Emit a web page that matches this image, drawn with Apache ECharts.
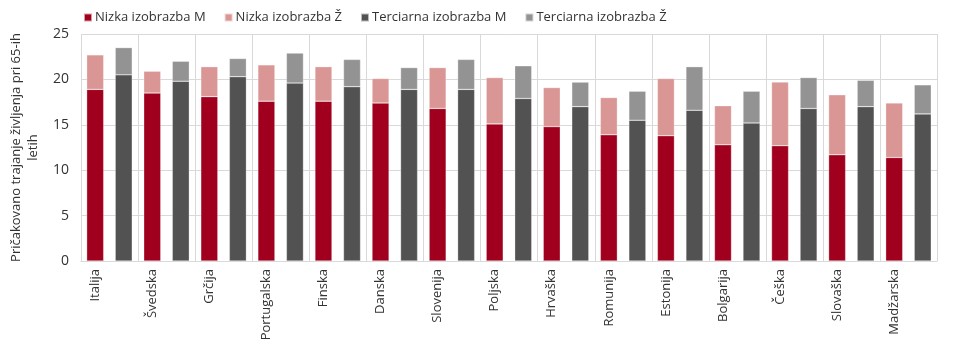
<!DOCTYPE html>
<html>
<head>
<meta charset="utf-8">
<script src="https://cdn.jsdelivr.net/npm/echarts@6/dist/echarts.min.js"></script>
<style>html,body{margin:0;padding:0;background:#fff}#c{width:960px;height:350px}</style>
</head>
<body>
<div id="c"></div>
<script>
const countries = ['Italija','Švedska','Grčija','Portugalska','Finska','Danska','Slovenija','Poljska','Hrvaška','Romunija','Estonija','Bolgarija','Češka','Slovaška','Madžarska'];
const lowM  = [18.9,18.5,18.1,17.6,17.6,17.4,16.8,15.1,14.8,13.9,13.8,12.8,12.7,11.7,11.4];
const lowF  = [22.7,20.9,21.4,21.6,21.4,20.1,21.3,20.2,19.1,18.0,20.1,17.1,19.7,18.3,17.4];
const terM  = [20.5,19.8,20.3,19.6,19.2,18.9,18.9,17.9,17.0,15.5,16.6,15.2,16.8,17.0,16.2];
const terF  = [23.5,22.0,22.3,22.9,22.2,21.3,22.2,21.5,19.7,18.7,21.4,18.7,20.2,19.9,19.4];
const yTicks = [0,5,10,15,20,25];

// two slots per country: low education slot, tertiary slot
const cats = [], sLowM = [], sLowF = [], sTerM = [], sTerF = [];
countries.forEach((c, i) => {
  cats.push(c, ' ');
  sLowM.push(lowM[i], '-');
  sLowF.push(+(lowF[i] - lowM[i]).toFixed(2), '-');
  sTerM.push('-', terM[i]);
  sTerF.push('-', +(terF[i] - terM[i]).toFixed(2));
});
// group separators: one per country boundary
const bounds = countries.map((_, i) => i).concat([countries.length]);

const font = '"Open Sans", "Noto Sans", sans-serif';
const chart = echarts.init(document.getElementById('c'), null, {renderer: 'canvas'});
const mk = (name, data, color) => ({
  name, type: 'bar', stack: 'a', data, barWidth: 17, xAxisIndex: 0, z: 3,
  itemStyle: {color, borderColor: 'rgba(255,255,255,0.6)', borderWidth: 0.5},
  emphasis: {disabled: true}
});
chart.setOption({
  animation: false,
  textStyle: {fontFamily: font},
  legend: {
    left: 78, top: 6, itemWidth: 8, itemHeight: 8, itemGap: 18,
    icon: 'rect',
    textStyle: {fontFamily: font, fontSize: 13, color: '#333', padding: [0,0,0,-2]},
    data: ['Nizka izobrazba M','Nizka izobrazba Ž','Terciarna izobrazba M','Terciarna izobrazba Ž']
  },
  grid: {left: 78, right: 23, top: 34, bottom: 89},
  xAxis: [{
    type: 'category', data: cats, z: 3,
    axisLine: {show: true, lineStyle: {color: '#d9d9d9'}},
    axisTick: {show: false},
    axisLabel: {interval: 0, rotate: 90, fontSize: 13, color: '#333', fontFamily: font, margin: 8},
    splitLine: {show: false}
  }, {
    type: 'value', min: 0, max: countries.length, interval: 1, position: 'bottom',
    axisLine: {show: false}, axisTick: {show: false}, axisLabel: {show: false},
    splitLine: {show: false}
  }],
  yAxis: {
    type: 'value', min: 0, max: 25, interval: 5,
    name: 'Pričakovano trajanje življenja pri 65-ih\nletih',
    nameLocation: 'middle', nameGap: 31,
    nameTextStyle: {fontSize: 13, color: '#333', fontFamily: font, lineHeight: 17},
    axisLabel: {fontSize: 14, color: '#333', fontFamily: font, margin: 12},
    axisLine: {show: false}, axisTick: {show: false},
    splitLine: {lineStyle: {color: '#d9d9d9'}}
  },
  series: [
    {
      type: 'custom', xAxisIndex: 1, yAxisIndex: 0, z: 1, silent: true,
      data: bounds.map(b => [b]),
      encode: {x: 0},
      renderItem: (params, api) => {
        const p0 = api.coord([api.value(0), yTicks[0]]);
        const p1 = api.coord([api.value(0), yTicks[yTicks.length - 1]]);
        const x = Math.round(p0[0]) + 0.5;
        return {type: 'line', shape: {x1: x, y1: p0[1], x2: x, y2: p1[1]},
                style: {stroke: '#d9d9d9', lineWidth: 1}};
      }
    },
    mk('Nizka izobrazba M', sLowM, '#A0001E'),
    mk('Nizka izobrazba Ž', sLowF, '#D99694'),
    mk('Terciarna izobrazba M', sTerM, '#525252'),
    mk('Terciarna izobrazba Ž', sTerF, '#939393')
  ]
});
</script>
</body>
</html>
